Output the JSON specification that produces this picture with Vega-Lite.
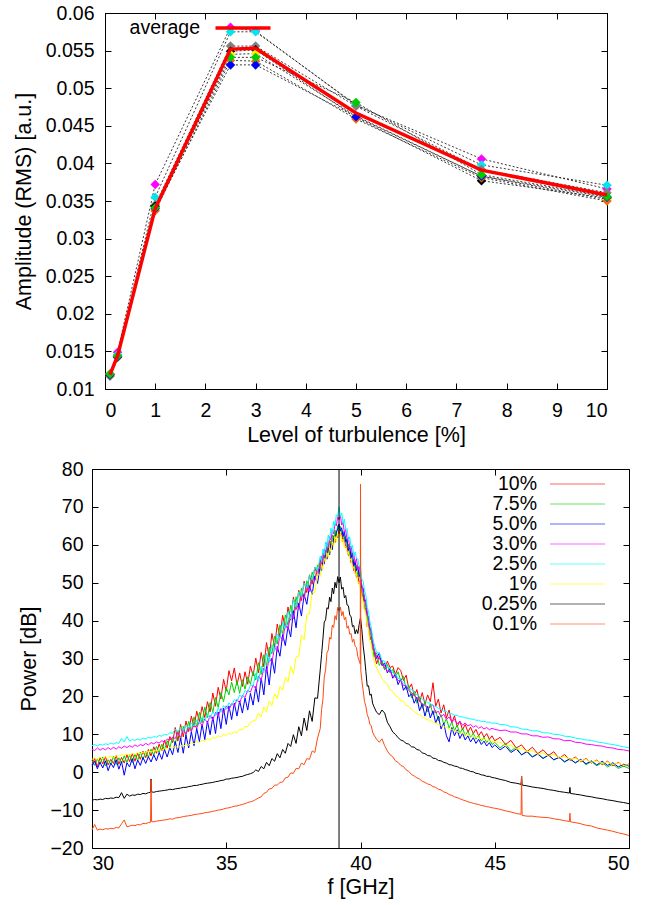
{
"$schema": "https://vega.github.io/schema/vega-lite/v6.json",
"padding": {"left": 12, "top": 2, "right": 5, "bottom": 5},
"config": {
  "font": "Liberation Sans",
  "view": {"stroke": "#000", "strokeWidth": 1},
  "axis": {"grid": false, "domainColor": "#000", "tickColor": "#000", "labelColor": "#000", "titleColor": "#000", "labelFontSize": 19.5, "titleFontSize": 21.5, "titleFontWeight": "normal", "labelFont": "Liberation Sans", "titleFont": "Liberation Sans", "tickSize": -6},
  "legend": {"labelFont": "Liberation Sans", "labelColor": "#000"},
  "concat": {"spacing": 12}
},
"datasets": {
  "amp": [
    {"t":0.1,"s":"m","v":0.0120},{"t":0.25,"s":"m","v":0.0149},{"t":1,"s":"m","v":0.0372},{"t":2.5,"s":"m","v":0.0581},{"t":3,"s":"m","v":0.0576},{"t":5,"s":"m","v":0.0477},{"t":7.5,"s":"m","v":0.0406},{"t":10,"s":"m","v":0.0366},
    {"t":0.1,"s":"c","v":0.0119},{"t":0.25,"s":"c","v":0.0146},{"t":1,"s":"c","v":0.0355},{"t":2.5,"s":"c","v":0.0575},{"t":3,"s":"c","v":0.0575},{"t":5,"s":"c","v":0.0478},{"t":7.5,"s":"c","v":0.0398},{"t":10,"s":"c","v":0.0371},
    {"t":0.1,"s":"gr","v":0.0117},{"t":0.25,"s":"gr","v":0.0142},{"t":1,"s":"gr","v":0.0345},{"t":2.5,"s":"gr","v":0.0556},{"t":3,"s":"gr","v":0.0556},{"t":5,"s":"gr","v":0.0476},{"t":7.5,"s":"gr","v":0.0392},{"t":10,"s":"gr","v":0.0361},
    {"t":0.1,"s":"k","v":0.0119},{"t":0.25,"s":"k","v":0.0143},{"t":1,"s":"k","v":0.0343},{"t":2.5,"s":"k","v":0.0549},{"t":3,"s":"k","v":0.0551},{"t":5,"s":"k","v":0.0461},{"t":7.5,"s":"k","v":0.0377},{"t":10,"s":"k","v":0.0354},
    {"t":0.1,"s":"y","v":0.0120},{"t":0.25,"s":"y","v":0.0144},{"t":1,"s":"y","v":0.0338},{"t":2.5,"s":"y","v":0.0545},{"t":3,"s":"y","v":0.0546},{"t":5,"s":"y","v":0.0463},{"t":7.5,"s":"y","v":0.0383},{"t":10,"s":"y","v":0.0352},
    {"t":0.1,"s":"o","v":0.0119},{"t":0.25,"s":"o","v":0.0143},{"t":1,"s":"o","v":0.0337},{"t":2.5,"s":"o","v":0.0537},{"t":3,"s":"o","v":0.0536},{"t":5,"s":"o","v":0.0459},{"t":7.5,"s":"o","v":0.0381},{"t":10,"s":"o","v":0.0350},
    {"t":0.1,"s":"b","v":0.0119},{"t":0.25,"s":"b","v":0.0143},{"t":1,"s":"b","v":0.0340},{"t":2.5,"s":"b","v":0.0531},{"t":3,"s":"b","v":0.0531},{"t":5,"s":"b","v":0.0462},{"t":7.5,"s":"b","v":0.0383},{"t":10,"s":"b","v":0.0355},
    {"t":0.1,"s":"g","v":0.0120},{"t":0.25,"s":"g","v":0.0144},{"t":1,"s":"g","v":0.0341},{"t":2.5,"s":"g","v":0.0541},{"t":3,"s":"g","v":0.0541},{"t":5,"s":"g","v":0.0481},{"t":7.5,"s":"g","v":0.0385},{"t":10,"s":"g","v":0.0356}
  ],
  "avg": [
    {"t":0.1,"v":0.0119},{"t":0.25,"v":0.0144},{"t":1,"v":0.0340},{"t":2.5,"v":0.0552},{"t":3,"v":0.0553},{"t":5,"v":0.0467},{"t":7.5,"v":0.0391},{"t":10,"v":0.0358}
  ],
  "vline": [{"f":39.2}],
  "spec": [
{"f":30.0,"a":2.0,"b":3.1,"c":1.6,"d":6.1,"e":7.0,"g":3.4,"h":-7.4,"i":-15.2},
{"f":30.1,"a":3.6,"b":1.8,"c":2.9,"d":5.7,"e":7.3,"g":3.8,"h":-7.2,"i":-13.8},
{"f":30.2,"a":1.4,"b":3.5,"c":0.9,"d":6.4,"e":6.9,"g":3.5,"h":-7.3,"i":-15.3},
{"f":30.3,"a":3.9,"b":2.2,"c":2.6,"d":5.8,"e":7.4,"g":3.9,"h":-7.1,"i":-15.0},
{"f":30.4,"a":2.2,"b":4.0,"c":1.1,"d":6.3,"e":7.1,"g":3.6,"h":-7.2,"i":-15.2},
{"f":30.5,"a":4.1,"b":1.6,"c":3.0,"d":5.9,"e":7.5,"g":4.0,"h":-6.9,"i":-14.9},
{"f":30.6,"a":1.9,"b":3.3,"c":0.4,"d":6.5,"e":7.3,"g":3.7,"h":-7.0,"i":-15.0},
{"f":30.7,"a":3.4,"b":2.1,"c":2.4,"d":6.0,"e":7.7,"g":4.2,"h":-6.8,"i":-14.8},
{"f":30.8,"a":2.3,"b":4.2,"c":1.2,"d":6.6,"e":7.4,"g":3.9,"h":-6.9,"i":-14.9},
{"f":30.9,"a":4.4,"b":2.0,"c":3.3,"d":6.1,"e":7.8,"g":4.3,"h":-6.6,"i":-14.6},
{"f":31.0,"a":2.1,"b":3.8,"c":0.8,"d":6.7,"e":7.6,"g":4.2,"h":-6.7,"i":-14.7},
{"f":31.1,"a":3.9,"b":2.4,"c":2.8,"d":6.3,"e":8.9,"g":4.6,"h":-5.4,"i":-13.6},
{"f":31.2,"a":2.4,"b":4.3,"c":-0.8,"d":6.9,"e":8.0,"g":4.4,"h":-6.9,"i":-12.6},
{"f":31.3,"a":4.6,"b":2.6,"c":2.5,"d":6.5,"e":9.4,"g":4.8,"h":-5.8,"i":-14.4},
{"f":31.4,"a":2.8,"b":4.6,"c":1.4,"d":7.0,"e":8.2,"g":4.5,"h":-6.3,"i":-14.2},
{"f":31.5,"a":4.9,"b":2.5,"c":3.6,"d":6.6,"e":8.6,"g":4.9,"h":-6.0,"i":-14.0},
{"f":31.6,"a":2.9,"b":4.8,"c":0.9,"d":7.2,"e":8.4,"g":4.7,"h":-6.1,"i":-14.1},
{"f":31.7,"a":5.0,"b":3.0,"c":3.2,"d":6.8,"e":8.8,"g":5.1,"h":-5.8,"i":-13.8},
{"f":31.8,"a":3.4,"b":5.3,"c":1.8,"d":7.3,"e":8.5,"g":4.9,"h":-5.9,"i":-13.9},
{"f":31.9,"a":5.6,"b":3.3,"c":3.9,"d":7.0,"e":9.0,"g":5.3,"h":-5.6,"i":-13.5},
{"f":32.0,"a":3.8,"b":5.5,"c":2.3,"d":7.6,"e":8.8,"g":5.2,"h":-5.7,"i":-13.6},
{"f":32.1,"a":6.0,"b":3.9,"c":4.1,"d":7.2,"e":9.2,"g":5.5,"h":-5.4,"i":-13.3},
{"f":32.18,"h":-5.3,"i":-13.2},
{"f":32.2,"a":4.3,"b":6.1,"c":2.7,"d":7.8,"e":9.0,"g":5.4,"h":-1.8,"i":-2.0},
{"f":32.22,"h":-5.2,"i":-13.0},
{"f":32.3,"a":6.7,"b":4.4,"c":4.6,"d":7.5,"e":9.4,"g":5.7,"h":-5.3,"i":-13.1},
{"f":32.4,"a":5.0,"b":6.8,"c":3.0,"d":8.0,"e":9.2,"g":5.6,"h":-5.1,"i":-12.9},
{"f":32.5,"a":7.4,"b":5.2,"c":5.2,"d":7.7,"e":9.7,"g":5.9,"h":-5.0,"i":-12.8},
{"f":32.6,"a":5.6,"b":7.4,"c":3.4,"d":8.3,"e":9.5,"g":5.8,"h":-4.9,"i":-12.7},
{"f":32.7,"a":8.4,"b":5.9,"c":6.0,"d":8.0,"e":10.0,"g":6.2,"h":-4.8,"i":-12.6},
{"f":32.8,"a":6.4,"b":8.3,"c":4.0,"d":8.7,"e":9.8,"g":6.1,"h":-4.7,"i":-12.5},
{"f":32.9,"a":9.4,"b":6.6,"c":6.5,"d":8.5,"e":10.4,"g":6.5,"h":-4.5,"i":-12.3},
{"f":33.0,"a":7.8,"b":9.2,"c":4.6,"d":9.2,"e":10.3,"g":6.4,"h":-4.6,"i":-12.4},
{"f":33.1,"a":11.8,"b":7.3,"c":8.1,"d":8.9,"e":11.4,"g":6.8,"h":-4.4,"i":-12.1},
{"f":33.2,"a":8.2,"b":11.0,"c":5.2,"d":10.5,"e":10.6,"g":6.5,"h":-4.3,"i":-12.0},
{"f":33.3,"a":12.6,"b":8.4,"c":9.0,"d":9.2,"e":11.9,"g":7.1,"h":-4.2,"i":-11.9},
{"f":33.4,"a":9.3,"b":12.1,"c":5.0,"d":11.2,"e":11.0,"g":6.8,"h":-4.0,"i":-11.7},
{"f":33.5,"a":13.5,"b":9.7,"c":9.8,"d":10.0,"e":12.4,"g":7.4,"h":-4.0,"i":-11.6},
{"f":33.6,"a":10.7,"b":13.4,"c":6.4,"d":11.9,"e":11.6,"g":7.1,"h":-3.8,"i":-11.5},
{"f":33.7,"a":14.8,"b":10.8,"c":10.7,"d":10.8,"e":13.0,"g":7.8,"h":-3.7,"i":-11.4},
{"f":33.8,"a":11.9,"b":14.6,"c":7.0,"d":12.6,"e":12.2,"g":7.5,"h":-3.5,"i":-11.2},
{"f":33.9,"a":16.1,"b":12.0,"c":11.6,"d":11.6,"e":13.7,"g":8.2,"h":-3.5,"i":-11.1},
{"f":34.0,"a":13.4,"b":15.8,"c":8.1,"d":13.4,"e":12.8,"g":7.8,"h":-3.3,"i":-11.0},
{"f":34.1,"a":17.3,"b":13.0,"c":12.7,"d":12.3,"e":14.4,"g":8.5,"h":-3.2,"i":-10.9},
{"f":34.2,"a":14.4,"b":17.2,"c":8.6,"d":14.1,"e":13.5,"g":8.1,"h":-3.0,"i":-10.7},
{"f":34.3,"a":18.6,"b":14.4,"c":13.5,"d":13.0,"e":15.2,"g":8.9,"h":-2.9,"i":-10.6},
{"f":34.4,"a":15.9,"b":18.4,"c":9.9,"d":15.0,"e":14.2,"g":8.5,"h":-2.8,"i":-10.5},
{"f":34.5,"a":20.9,"b":15.8,"c":14.6,"d":13.8,"e":16.0,"g":9.2,"h":-2.7,"i":-10.3},
{"f":34.6,"a":17.4,"b":19.7,"c":10.2,"d":15.8,"e":14.9,"g":8.9,"h":-2.5,"i":-10.2},
{"f":34.7,"a":22.4,"b":17.1,"c":15.9,"d":14.7,"e":16.9,"g":9.6,"h":-2.4,"i":-10.0},
{"f":34.8,"a":19.3,"b":21.0,"c":11.5,"d":16.8,"e":15.8,"g":9.3,"h":-2.2,"i":-9.9},
{"f":34.9,"a":24.5,"b":18.6,"c":16.9,"d":15.6,"e":17.6,"g":10.0,"h":-2.1,"i":-9.7},
{"f":35.0,"a":21.4,"b":22.3,"c":12.6,"d":17.5,"e":16.6,"g":9.7,"h":-1.8,"i":-9.5},
{"f":35.1,"a":26.8,"b":20.4,"c":17.5,"d":16.4,"e":18.3,"g":10.4,"h":-1.8,"i":-9.4},
{"f":35.2,"a":24.1,"b":23.8,"c":13.9,"d":18.1,"e":17.5,"g":10.0,"h":-1.6,"i":-9.2},
{"f":35.3,"a":27.5,"b":21.0,"c":18.2,"d":17.4,"e":19.2,"g":10.7,"h":-1.5,"i":-9.0},
{"f":35.4,"a":23.0,"b":24.0,"c":14.8,"d":19.2,"e":18.6,"g":10.4,"h":-1.4,"i":-8.9},
{"f":35.5,"a":26.2,"b":20.8,"c":18.8,"d":18.3,"e":20.4,"g":11.3,"h":-1.2,"i":-8.7},
{"f":35.6,"a":22.6,"b":24.4,"c":15.6,"d":20.3,"e":19.6,"g":11.2,"h":-1.1,"i":-8.5},
{"f":35.7,"a":26.5,"b":21.9,"c":19.6,"d":19.7,"e":21.6,"g":12.1,"h":-0.8,"i":-8.3},
{"f":35.8,"a":23.2,"b":25.2,"c":16.4,"d":21.6,"e":21.0,"g":12.0,"h":-0.6,"i":-8.0},
{"f":35.9,"a":28.0,"b":23.2,"c":20.8,"d":21.1,"e":23.0,"g":13.2,"h":-0.4,"i":-7.8},
{"f":36.0,"a":25.4,"b":26.6,"c":17.7,"d":23.0,"e":22.8,"g":13.5,"h":-0.1,"i":-7.6},
{"f":36.1,"a":30.1,"b":24.3,"c":22.6,"d":22.0,"e":26.1,"g":13.8,"h":0.6,"i":-7.2},
{"f":36.2,"a":26.2,"b":28.9,"c":18.5,"d":25.4,"e":24.0,"g":15.6,"h":0.2,"i":-6.8},
{"f":36.3,"a":31.6,"b":25.8,"c":24.9,"d":24.2,"e":28.0,"g":14.6,"h":1.5,"i":-6.5},
{"f":36.4,"a":27.8,"b":31.0,"c":20.4,"d":27.5,"e":26.2,"g":17.2,"h":0.9,"i":-5.6},
{"f":36.5,"a":34.2,"b":28.1,"c":27.9,"d":26.3,"e":31.4,"g":16.0,"h":2.6,"i":-5.3},
{"f":36.6,"a":30.3,"b":33.0,"c":23.0,"d":30.1,"e":29.0,"g":18.8,"h":1.7,"i":-4.4},
{"f":36.7,"a":36.6,"b":31.2,"c":30.1,"d":28.9,"e":33.7,"g":17.6,"h":3.6,"i":-4.3},
{"f":36.8,"a":32.9,"b":35.9,"c":26.1,"d":33.0,"e":32.0,"g":20.7,"h":2.9,"i":-3.4},
{"f":36.9,"a":39.1,"b":33.8,"c":33.2,"d":31.8,"e":36.5,"g":19.4,"h":4.9,"i":-3.4},
{"f":37.0,"a":35.6,"b":38.9,"c":30.6,"d":36.2,"e":35.2,"g":22.6,"h":3.8,"i":-2.7},
{"f":37.1,"a":41.4,"b":36.5,"c":36.3,"d":34.6,"e":39.6,"g":21.6,"h":6.0,"i":-2.6},
{"f":37.2,"a":38.0,"b":41.5,"c":33.4,"d":39.1,"e":37.8,"g":25.1,"h":5.0,"i":-1.5},
{"f":37.3,"a":43.6,"b":38.7,"c":38.5,"d":37.6,"e":42.3,"g":23.8,"h":7.6,"i":-1.3},
{"f":37.4,"a":40.1,"b":44.1,"c":35.7,"d":41.7,"e":40.4,"g":27.9,"h":6.8,"i":-0.2},
{"f":37.5,"a":46.2,"b":41.4,"c":42.6,"d":40.5,"e":45.6,"g":26.0,"h":9.9,"i":-0.3},
{"f":37.6,"a":42.9,"b":46.3,"c":38.1,"d":44.6,"e":43.5,"g":30.4,"h":7.6,"i":1.0},
{"f":37.7,"a":48.0,"b":43.6,"c":44.6,"d":43.0,"e":47.6,"g":30.5,"h":12.0,"i":0.9},
{"f":37.8,"a":45.3,"b":48.5,"c":41.2,"d":46.9,"e":46.4,"g":36.2,"h":9.6,"i":2.4},
{"f":37.9,"a":50.4,"b":46.2,"c":46.9,"d":45.8,"e":49.9,"g":35.0,"h":14.3,"i":2.0},
{"f":38.0,"a":47.4,"b":50.5,"c":44.3,"d":49.4,"e":48.6,"g":41.6,"h":11.0,"i":3.6},
{"f":38.1,"a":52.1,"b":48.4,"c":49.2,"d":47.7,"e":51.9,"g":41.8,"h":16.2,"i":3.4},
{"f":38.2,"a":49.6,"b":52.8,"c":46.9,"d":51.3,"e":50.8,"g":47.6,"h":13.4,"i":5.6},
{"f":38.3,"a":54.1,"b":50.6,"c":51.8,"d":50.6,"e":54.1,"g":47.3,"h":19.6,"i":5.2},
{"f":38.4,"a":51.9,"b":54.7,"c":49.8,"d":53.6,"e":53.2,"g":52.4,"h":19.5,"i":9.0},
{"f":38.5,"a":56.1,"b":53.2,"c":54.4,"d":53.9,"e":57.0,"g":51.6,"h":27.0,"i":11.5},
{"f":38.55,"a":54.0,"b":56.6,"c":53.1,"d":57.0,"e":55.6,"g":54.8,"h":31.0,"i":16.5},
{"f":38.6,"a":57.8,"b":54.9,"c":56.4,"d":55.3,"e":58.9,"g":53.6,"h":35.2,"i":19.2},
{"f":38.65,"a":55.7,"b":58.4,"c":54.9,"d":58.9,"e":57.4,"g":56.4,"h":39.6,"i":25.1},
{"f":38.7,"a":58.6,"b":56.5,"c":57.7,"d":57.4,"e":60.8,"g":55.4,"h":40.2,"i":27.0},
{"f":38.75,"a":56.4,"b":59.6,"c":56.2,"d":60.6,"e":59.5,"g":57.9,"h":43.4,"i":31.5},
{"f":38.8,"a":59.6,"b":58.0,"c":59.1,"d":59.3,"e":62.6,"g":56.6,"h":43.1,"i":32.2},
{"f":38.85,"a":57.9,"b":61.1,"c":57.3,"d":62.2,"e":61.3,"g":59.3,"h":46.2,"i":35.6},
{"f":38.9,"a":61.0,"b":59.3,"c":60.3,"d":61.2,"e":64.4,"g":58.2,"h":45.0,"i":35.1},
{"f":38.95,"a":59.3,"b":62.6,"c":58.7,"d":63.8,"e":63.0,"g":60.8,"h":48.6,"i":38.8},
{"f":39.0,"a":62.4,"b":60.6,"c":61.6,"d":62.9,"e":66.2,"g":59.4,"h":47.1,"i":38.2},
{"f":39.05,"a":60.6,"b":63.9,"c":61.2,"d":65.6,"e":65.0,"g":62.2,"h":50.1,"i":41.3},
{"f":39.1,"a":63.2,"b":62.4,"c":63.4,"d":65.0,"e":67.9,"g":60.8,"h":48.6,"i":40.2},
{"f":39.15,"a":61.8,"b":65.1,"c":64.1,"d":67.4,"e":67.6,"g":63.1,"h":51.6,"i":43.5},
{"f":39.2,"a":64.0,"b":63.8,"c":65.5,"d":66.6,"e":70.0,"g":62.0,"h":50.0,"i":42.6},
{"f":39.25,"a":62.3,"b":64.9,"c":63.6,"d":67.8,"e":67.5,"g":62.9,"h":51.5,"i":43.6},
{"f":39.3,"a":63.2,"b":63.0,"c":64.5,"d":65.2,"e":68.4,"g":60.7,"h":48.3,"i":41.3},
{"f":39.35,"a":60.8,"b":63.6,"c":62.2,"d":65.9,"e":65.6,"g":61.5,"h":48.8,"i":42.4},
{"f":39.4,"a":61.9,"b":61.1,"c":63.4,"d":63.3,"e":66.8,"g":59.4,"h":46.0,"i":40.2},
{"f":39.45,"a":59.2,"b":62.4,"c":60.7,"d":63.9,"e":63.9,"g":59.6,"h":46.6,"i":40.9},
{"f":39.5,"a":59.8,"b":59.3,"c":61.5,"d":61.4,"e":64.3,"g":58.0,"h":44.1,"i":38.0},
{"f":39.55,"a":57.1,"b":60.2,"c":58.5,"d":62.0,"e":61.3,"g":58.1,"h":43.9,"i":38.6},
{"f":39.6,"a":57.6,"b":57.4,"c":59.7,"d":59.2,"e":62.1,"g":56.3,"h":41.5,"i":36.4},
{"f":39.65,"a":55.2,"b":58.2,"c":56.6,"d":59.6,"e":59.3,"g":56.0,"h":41.0,"i":36.6},
{"f":39.7,"a":55.8,"b":55.6,"c":57.8,"d":57.4,"e":59.9,"g":54.0,"h":38.4,"i":34.3},
{"f":39.75,"a":53.1,"b":56.1,"c":54.5,"d":57.5,"e":57.1,"g":54.1,"h":38.7,"i":35.1},
{"f":39.8,"a":53.7,"b":53.6,"c":55.6,"d":55.3,"e":58.1,"g":52.2,"h":36.5,"i":33.2},
{"f":39.85,"a":51.4,"b":54.6,"c":53.2,"d":56.3,"e":56.4,"g":52.3,"h":37.6,"i":32.9},
{"f":39.9,"a":52.0,"b":51.8,"c":54.4,"d":53.6,"e":56.3,"g":50.0,"h":36.6,"i":30.5},
{"f":39.95,"a":49.7,"b":52.9,"c":51.6,"d":54.3,"e":54.2,"g":50.2,"h":39.0,"i":29.4},
{"f":39.99,"i":28.6},
{"f":40.0,"a":50.6,"b":50.3,"c":52.5,"d":51.9,"e":54.6,"g":48.3,"h":40.8,"i":76.0},
{"f":40.01,"i":27.0},
{"f":40.05,"a":46.5,"b":48.3,"c":48.7,"d":49.4,"e":50.8,"g":46.1,"h":37.6,"i":24.2},
{"f":40.1,"a":46.8,"b":45.8,"c":48.6,"d":47.6,"e":50.5,"g":44.9,"h":33.4,"i":21.5},
{"f":40.15,"a":42.9,"b":45.6,"c":45.2,"d":46.0,"e":47.8,"g":42.6,"h":30.4,"i":18.6},
{"f":40.2,"a":43.4,"b":43.3,"c":45.4,"d":44.5,"e":46.7,"g":41.7,"h":26.6,"i":17.4},
{"f":40.25,"a":38.4,"b":41.0,"c":41.4,"d":42.2,"e":43.5,"g":38.9,"h":22.7,"i":15.2},
{"f":40.3,"a":39.0,"b":38.9,"c":40.9,"d":40.3,"e":42.4,"g":37.7,"h":22.8,"i":14.3},
{"f":40.35,"a":34.9,"b":37.4,"c":37.8,"d":38.1,"e":39.6,"g":34.5,"h":20.3,"i":12.6},
{"f":40.4,"a":35.9,"b":35.4,"c":37.6,"d":36.6,"e":38.3,"g":33.6,"h":20.6,"i":12.3},
{"f":40.45,"a":32.4,"b":33.8,"c":34.3,"d":34.6,"e":35.6,"g":31.0,"h":18.2,"i":10.6},
{"f":40.5,"a":31.8,"b":30.4,"c":32.5,"d":32.4,"e":34.0,"g":29.4,"h":17.3,"i":9.8},
{"f":40.6,"a":28.6,"b":31.5,"c":30.0,"d":30.3,"e":31.6,"g":27.5,"h":15.8,"i":8.7},
{"f":40.7,"a":30.6,"b":28.2,"c":31.5,"d":30.2,"e":31.4,"g":26.2,"h":15.2,"i":7.9},
{"f":40.8,"a":29.4,"b":29.3,"c":28.1,"d":28.4,"e":29.5,"g":24.7,"h":16.4,"i":8.8},
{"f":40.9,"a":27.1,"b":27.0,"c":28.8,"d":28.1,"e":29.3,"g":23.9,"h":15.6,"i":7.0},
{"f":41.0,"a":29.3,"b":28.4,"c":26.2,"d":26.6,"e":27.7,"g":23.1,"h":13.2,"i":5.6},
{"f":41.1,"a":27.6,"b":26.2,"c":27.4,"d":26.6,"e":27.4,"g":21.8,"h":12.0,"i":4.6},
{"f":41.2,"a":28.0,"b":27.1,"c":24.8,"d":25.3,"e":26.2,"g":21.3,"h":10.6,"i":4.1},
{"f":41.3,"a":25.8,"b":24.9,"c":25.9,"d":25.4,"e":25.9,"g":20.2,"h":10.0,"i":3.0},
{"f":41.4,"a":27.6,"b":26.5,"c":23.1,"d":24.2,"e":24.8,"g":19.8,"h":9.1,"i":2.6},
{"f":41.5,"a":26.8,"b":24.1,"c":24.6,"d":24.1,"e":24.4,"g":18.8,"h":8.5,"i":1.8},
{"f":41.6,"a":24.2,"b":25.3,"c":21.6,"d":22.9,"e":23.5,"g":18.7,"h":8.2,"i":1.5},
{"f":41.7,"a":25.6,"b":21.8,"c":22.7,"d":22.8,"e":23.1,"g":17.6,"h":7.6,"i":0.6},
{"f":41.8,"a":22.0,"b":22.9,"c":19.9,"d":21.5,"e":22.1,"g":17.4,"h":7.4,"i":0.2},
{"f":41.9,"a":23.3,"b":19.6,"c":20.7,"d":21.0,"e":21.9,"g":16.5,"h":6.7,"i":-0.6},
{"f":42.0,"a":20.1,"b":21.4,"c":18.2,"d":20.3,"e":21.1,"g":16.1,"h":6.6,"i":-1.0},
{"f":42.1,"a":21.8,"b":18.2,"c":19.8,"d":19.4,"e":20.4,"g":15.4,"h":6.0,"i":-1.5},
{"f":42.2,"a":18.6,"b":19.9,"c":16.2,"d":19.0,"e":20.0,"g":15.2,"h":5.8,"i":-1.8},
{"f":42.3,"a":21.0,"b":16.8,"c":18.1,"d":17.9,"e":19.3,"g":14.5,"h":5.1,"i":-2.4},
{"f":42.4,"a":17.9,"b":18.6,"c":14.8,"d":17.7,"e":18.9,"g":14.3,"h":4.9,"i":-2.7},
{"f":42.5,"a":20.4,"b":15.9,"c":17.4,"d":16.8,"e":18.3,"g":13.8,"h":4.4,"i":-3.1},
{"f":42.6,"a":18.6,"b":18.0,"c":14.3,"d":17.2,"e":18.2,"g":13.7,"h":4.3,"i":-3.3},
{"f":42.7,"a":23.6,"b":15.2,"c":16.2,"d":17.8,"e":17.5,"g":13.2,"h":3.7,"i":-3.8},
{"f":42.8,"a":17.4,"b":16.4,"c":13.0,"d":15.6,"e":17.4,"g":13.0,"h":3.6,"i":-4.0},
{"f":42.9,"a":19.3,"b":13.5,"c":14.8,"d":16.1,"e":16.8,"g":12.6,"h":3.1,"i":-4.5},
{"f":43.0,"a":15.6,"b":15.2,"c":11.4,"d":14.6,"e":16.6,"g":12.4,"h":3.0,"i":-4.7},
{"f":43.1,"a":17.8,"b":12.6,"c":13.0,"d":15.3,"e":16.1,"g":12.0,"h":2.6,"i":-5.2},
{"f":43.2,"a":14.3,"b":14.1,"c":9.6,"d":13.9,"e":16.0,"g":11.9,"h":2.4,"i":-5.4},
{"f":43.3,"a":16.4,"b":11.7,"c":8.0,"d":14.6,"e":15.5,"g":11.4,"h":2.0,"i":-5.9},
{"f":43.4,"a":13.0,"b":13.2,"c":11.8,"d":13.3,"e":15.4,"g":11.3,"h":1.9,"i":-6.1},
{"f":43.5,"a":14.9,"b":11.0,"c":9.6,"d":14.0,"e":15.0,"g":10.9,"h":1.6,"i":-6.5},
{"f":43.6,"a":12.0,"b":12.4,"c":11.2,"d":12.8,"e":15.0,"g":10.8,"h":1.5,"i":-6.7},
{"f":43.7,"a":13.5,"b":10.2,"c":8.9,"d":13.4,"e":14.6,"g":10.4,"h":1.1,"i":-7.0},
{"f":43.8,"a":11.2,"b":11.6,"c":10.3,"d":12.4,"e":14.6,"g":10.3,"h":1.0,"i":-7.3},
{"f":43.9,"a":12.6,"b":9.7,"c":8.5,"d":13.0,"e":14.3,"g":10.0,"h":0.7,"i":-7.5},
{"f":44.0,"a":10.6,"b":10.8,"c":9.6,"d":12.2,"e":14.3,"g":9.9,"h":0.5,"i":-7.8},
{"f":44.1,"a":11.9,"b":9.2,"c":8.0,"d":12.6,"e":14.0,"g":9.6,"h":0.2,"i":-8.0},
{"f":44.2,"a":10.2,"b":10.3,"c":9.1,"d":11.9,"e":14.0,"g":9.5,"h":0.1,"i":-8.2},
{"f":44.3,"a":11.3,"b":8.7,"c":7.6,"d":12.3,"e":13.7,"g":9.2,"h":-0.3,"i":-8.4},
{"f":44.4,"a":9.6,"b":9.7,"c":8.7,"d":11.6,"e":13.7,"g":9.1,"h":-0.4,"i":-8.5},
{"f":44.5,"a":10.7,"b":8.2,"c":7.3,"d":12.0,"e":13.4,"g":8.8,"h":-0.7,"i":-8.8},
{"f":44.6,"a":9.2,"b":9.2,"c":8.2,"d":11.4,"e":13.4,"g":8.7,"h":-0.8,"i":-8.9},
{"f":44.7,"a":10.2,"b":7.8,"c":6.9,"d":11.8,"e":13.2,"g":8.5,"h":-1.1,"i":-9.1},
{"f":44.8,"a":8.7,"b":8.7,"c":7.8,"d":11.2,"e":13.2,"g":8.3,"h":-1.1,"i":-9.2},
{"f":44.9,"a":9.6,"b":7.3,"c":6.5,"d":11.6,"e":12.9,"g":8.1,"h":-1.4,"i":-9.4},
{"f":45.0,"a":8.3,"b":7.9,"c":7.2,"d":11.3,"e":13.0,"g":8.0,"h":-1.5,"i":-9.5},
{"f":45.2,"a":9.2,"b":6.4,"c":5.9,"d":11.0,"e":12.6,"g":7.9,"h":-1.9,"i":-9.8},
{"f":45.4,"a":7.3,"b":7.6,"c":6.9,"d":11.1,"e":12.5,"g":6.9,"h":-2.2,"i":-10.2},
{"f":45.6,"a":8.4,"b":5.6,"c":5.2,"d":10.6,"e":12.0,"g":7.2,"h":-2.7,"i":-10.5},
{"f":45.8,"a":6.4,"b":6.6,"c":6.1,"d":10.6,"e":11.9,"g":6.1,"h":-2.9,"i":-10.9},
{"f":45.98,"h":-3.2,"i":-11.1},
{"f":46.0,"a":7.2,"b":4.5,"c":4.6,"d":10.1,"e":11.4,"g":6.4,"h":-1.0,"i":-1.0},
{"f":46.02,"h":-3.4,"i":-11.4},
{"f":46.2,"a":5.4,"b":5.6,"c":5.4,"d":10.1,"e":11.3,"g":5.4,"h":-3.6,"i":-11.6},
{"f":46.4,"a":6.6,"b":4.1,"c":4.0,"d":9.6,"e":10.9,"g":5.7,"h":-3.9,"i":-11.6},
{"f":46.6,"a":4.9,"b":4.9,"c":4.8,"d":9.6,"e":10.9,"g":4.7,"h":-4.1,"i":-11.8},
{"f":46.8,"a":5.9,"b":3.7,"c":3.6,"d":9.2,"e":10.4,"g":5.1,"h":-4.3,"i":-11.9},
{"f":47.0,"a":4.4,"b":4.6,"c":4.5,"d":9.3,"e":10.4,"g":4.2,"h":-4.6,"i":-12.0},
{"f":47.2,"a":5.4,"b":3.2,"c":3.3,"d":8.8,"e":10.0,"g":4.7,"h":-4.8,"i":-12.3},
{"f":47.4,"a":3.6,"b":4.0,"c":3.9,"d":8.8,"e":9.9,"g":3.7,"h":-5.1,"i":-12.5},
{"f":47.6,"a":4.7,"b":2.6,"c":2.8,"d":8.3,"e":9.5,"g":4.2,"h":-5.3,"i":-12.8},
{"f":47.78,"h":-5.5,"i":-13.0},
{"f":47.8,"a":3.1,"b":3.6,"c":3.5,"d":8.4,"e":9.4,"g":3.4,"h":-4.0,"i":-10.8},
{"f":47.82,"h":-5.6,"i":-13.1},
{"f":48.0,"a":4.0,"b":2.4,"c":2.5,"d":7.9,"e":9.0,"g":3.7,"h":-5.8,"i":-13.3},
{"f":48.2,"a":2.8,"b":3.3,"c":3.4,"d":7.8,"e":8.8,"g":3.0,"h":-6.0,"i":-13.6},
{"f":48.4,"a":3.6,"b":2.0,"c":2.2,"d":7.4,"e":8.5,"g":3.4,"h":-6.3,"i":-14.0},
{"f":48.6,"a":2.4,"b":2.8,"c":3.0,"d":7.3,"e":8.4,"g":2.6,"h":-6.5,"i":-14.2},
{"f":48.8,"a":3.2,"b":1.7,"c":1.9,"d":7.0,"e":8.0,"g":3.0,"h":-6.8,"i":-14.7},
{"f":49.0,"a":2.0,"b":2.5,"c":2.9,"d":6.9,"e":7.8,"g":2.3,"h":-7.0,"i":-15.0},
{"f":49.2,"a":2.9,"b":1.4,"c":1.8,"d":6.5,"e":7.5,"g":2.7,"h":-7.3,"i":-15.3},
{"f":49.4,"a":1.7,"b":2.1,"c":2.5,"d":6.4,"e":7.3,"g":2.0,"h":-7.5,"i":-15.6},
{"f":49.6,"a":2.6,"b":1.0,"c":1.4,"d":6.0,"e":7.0,"g":2.4,"h":-7.8,"i":-16.0},
{"f":49.8,"a":1.5,"b":1.6,"c":2.1,"d":5.9,"e":6.7,"g":1.8,"h":-8.0,"i":-16.3},
{"f":50.0,"a":2.2,"b":1.0,"c":1.6,"d":5.6,"e":6.4,"g":2.0,"h":-8.3,"i":-16.7}
  ]
},
"resolve": {"legend": {"color": "independent", "stroke": "independent"}},
"vconcat": [
  {
    "width": 502, "height": 376,
    "layer": [
      {
        "data": {"name": "amp"},
        "mark": {"type": "line", "color": "#222", "strokeWidth": 0.9, "strokeDash": [2, 2]},
        "encoding": {
          "x": {"field": "t", "type": "quantitative", "scale": {"domain": [0, 10], "nice": false},
                "axis": {"orient": "bottom", "values": [0,1,2,3,4,5,6,7,8,9,10], "title": "Level of turbulence [%]", "labelPadding": 18, "titlePadding": 5}},
          "y": {"field": "v", "type": "quantitative", "scale": {"domain": [0.01, 0.06], "nice": false, "zero": false},
                "axis": {"orient": "left", "values": [0.01,0.015,0.02,0.025,0.03,0.035,0.04,0.045,0.05,0.055,0.06], "format": ".3~f", "title": "Amplitude (RMS) [a.u.]", "labelPadding": 17, "titlePadding": 10}},
          "detail": {"field": "s", "type": "nominal"}
        }
      },
      {
        "data": {"name": "amp"},
        "mark": {"type": "point", "shape": "diamond", "filled": true, "size": 90, "opacity": 1, "strokeWidth": 0},
        "encoding": {
          "x": {"field": "t", "type": "quantitative", "axis": {"orient": "top", "values": [0,1,2,3,4,5,6,7,8,9,10], "labels": false, "title": null}},
          "y": {"field": "v", "type": "quantitative", "axis": {"orient": "right", "values": [0.01,0.015,0.02,0.025,0.03,0.035,0.04,0.045,0.05,0.055,0.06], "labels": false, "title": null}},
          "fill": {"field": "s", "type": "nominal", "scale": {"domain": ["g","b","o","y","k","gr","c","m"], "range": ["#00cc00","#0000ff","#f26a10","#ffee00","#000000","#808080","#00e5ee","#ff00ff"]}, "legend": null}
        }
      },
      {
        "data": {"name": "avg"},
        "mark": {"type": "line", "strokeWidth": 3.5},
        "encoding": {
          "x": {"field": "t", "type": "quantitative", "axis": null},
          "y": {"field": "v", "type": "quantitative", "axis": null},
          "stroke": {"datum": "average", "type": "nominal", "scale": {"range": ["#ff0000"]},
            "legend": {"title": null, "orient": "none", "legendX": 126, "legendY": 3, "symbolType": "M-2.75,0H2.75", "symbolSize": 400, "symbolStrokeWidth": 3.5, "labelAlign": "right", "labelOffset": -55, "labelFontSize": 19.5}}
        }
      }
    ],
    "resolve": {"axis": {"x": "independent", "y": "independent"}}
  },
  {
    "width": 524, "height": 379,
    "view": {"stroke": null},
    "layer": [
      {
        "data": {"name": "spec"},
        "transform": [{"fold": ["a","b","c","d","e","g","h","i"], "as": ["s","p"]}, {"filter": "isValid(datum.p)"}],
        "mark": {"type": "line", "strokeWidth": 1},
        "encoding": {
          "x": {"field": "f", "type": "quantitative", "scale": {"domain": [30, 50], "nice": false, "range": [-13, 524]},
                "axis": {"orient": "bottom", "values": [30,35,40,45,50], "title": "f [GHz]", "labelPadding": 12, "titlePadding": 4}},
          "y": {"field": "p", "type": "quantitative", "scale": {"domain": [-20, 80], "nice": false, "zero": false},
                "axis": {"orient": "left", "offset": 13, "values": [-20,-10,0,10,20,30,40,50,60,70,80], "title": "Power [dB]", "labelPadding": 15, "titlePadding": 9}},
          "color": {"field": "s", "type": "nominal",
            "scale": {"domain": ["a","b","c","d","e","g","h","i"], "range": ["#ff0000","#00d400","#0000ff","#ff00ff","#00ffff","#ffff00","#000000","#ff4a12"]},
            "legend": {"title": null, "orient": "none", "legendX": 462, "legendY": 4.5, "symbolType": "M-2.75,0H2.75", "symbolSize": 400, "symbolStrokeWidth": 1, "symbolOpacity": 0.6, "labelAlign": "right", "labelOffset": -51, "labelFontSize": 19.5, "rowPadding": -1,
              "labelExpr": "datum.label=='a'?'10%':datum.label=='b'?'7.5%':datum.label=='c'?'5.0%':datum.label=='d'?'3.0%':datum.label=='e'?'2.5%':datum.label=='g'?'1%':datum.label=='h'?'0.25%':'0.1%'"}}
        }
      },
      {
        "data": {"name": "vline"},
        "mark": {"type": "rule", "color": "#000", "strokeWidth": 1},
        "encoding": {
          "x": {"field": "f", "type": "quantitative", "axis": {"orient": "top", "values": [30,35,40,45,50], "labels": false, "title": null}},
          "y": {"datum": -20, "type": "quantitative", "axis": {"orient": "right", "values": [-20,-10,0,10,20,30,40,50,60,70,80], "labels": false, "title": null}},
          "y2": {"datum": 80}
        }
      }
    ],
    "resolve": {"axis": {"x": "independent", "y": "independent"}}
  }
]
}
